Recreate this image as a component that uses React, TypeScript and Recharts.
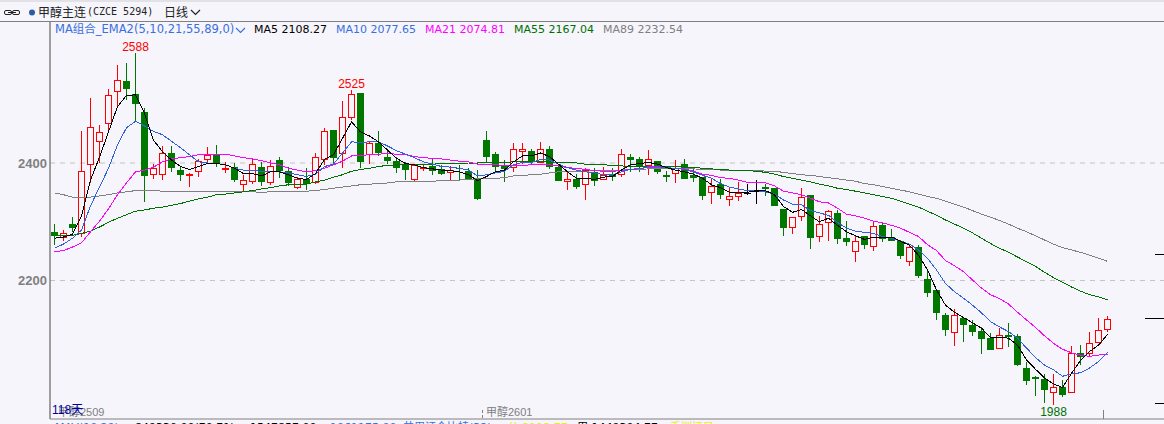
import React from 'react';
import { ComposedChart, Bar, Line, XAxis, YAxis, CartesianGrid, ReferenceDot } from 'recharts';

const opens = [
  2282, 2274, 2296, 2281, 2399, 2438, 2468, 2522, 2540, 2517,
  2486, 2382, 2382, 2417, 2388, 2379, 2386, 2406, 2414, 2389,
  2394, 2364, 2369, 2394, 2368, 2405, 2386, 2360, 2373, 2368,
  2406, 2456, 2417, 2478, 2519, 2415, 2434, 2410, 2403, 2398,
  2373, 2392, 2395, 2390, 2385, 2392, 2386, 2373, 2439, 2415,
  2397, 2394, 2421, 2420, 2402, 2424, 2394, 2370, 2373, 2365,
  2385, 2372, 2380, 2381, 2410, 2407, 2397, 2403, 2380, 2383,
  2398, 2380, 2376, 2350, 2364, 2338, 2344, 2349, 2353, 2359,
  2357, 2322, 2291, 2309, 2346, 2275, 2299, 2315, 2272, 2251,
  2276, 2259, 2294, 2274, 2267, 2234, 2257, 2202, 2184, 2141,
  2112, 2137, 2124, 2114, 2102, 2085, 2107, 2105, 2051, 2035,
  2032, 2011, 2018, 2010, 2076, 2077, 2095, 2117,
];
const closes = [
  2275, 2281, 2290, 2387, 2462, 2453, 2515, 2541, 2526, 2500,
  2378, 2391, 2417, 2392, 2380, 2382, 2403, 2413, 2399, 2391,
  2371, 2371, 2398, 2368, 2395, 2386, 2366, 2372, 2364, 2410,
  2455, 2409, 2478, 2517, 2402, 2434, 2417, 2404, 2392, 2388,
  2396, 2394, 2387, 2382, 2388, 2389, 2373, 2339, 2411, 2394,
  2390, 2423, 2423, 2402, 2423, 2394, 2370, 2372, 2360, 2388,
  2370, 2380, 2376, 2415, 2405, 2395, 2406, 2385, 2377, 2391,
  2373, 2375, 2344, 2361, 2346, 2343, 2349, 2349, 2353, 2356,
  2327, 2290, 2308, 2342, 2272, 2297, 2319, 2271, 2266, 2268,
  2261, 2292, 2271, 2268, 2241, 2257, 2208, 2179, 2144, 2116,
  2142, 2124, 2113, 2101, 2082, 2108, 2104, 2056, 2029, 2032,
  2014, 2018, 2005, 2077, 2069, 2094, 2115, 2135,
];
const highs = [
  2296, 2286, 2308, 2454, 2511, 2465, 2526, 2567, 2571, 2588,
  2494, 2399, 2429, 2429, 2395, 2383, 2406, 2427, 2431, 2402,
  2400, 2380, 2406, 2402, 2405, 2410, 2394, 2377, 2391, 2417,
  2459, 2456, 2506, 2525, 2519, 2436, 2454, 2422, 2411, 2402,
  2398, 2398, 2409, 2397, 2395, 2397, 2391, 2388, 2454, 2418,
  2405, 2434, 2434, 2423, 2435, 2429, 2395, 2385, 2382, 2391,
  2391, 2394, 2391, 2424, 2415, 2411, 2422, 2403, 2386, 2405,
  2407, 2391, 2376, 2372, 2372, 2357, 2368, 2364, 2371, 2365,
  2357, 2322, 2308, 2357, 2346, 2310, 2320, 2320, 2301, 2277,
  2276, 2300, 2299, 2288, 2269, 2262, 2260, 2218, 2184, 2145,
  2152, 2137, 2133, 2121, 2110, 2119, 2127, 2109, 2061, 2038,
  2041, 2041, 2031, 2089, 2090, 2112, 2136, 2140,
];
const lows = [
  2260, 2268, 2283, 2274, 2366, 2400, 2451, 2494, 2507, 2471,
  2334, 2373, 2371, 2385, 2370, 2360, 2377, 2399, 2394, 2383,
  2368, 2352, 2365, 2361, 2363, 2374, 2361, 2356, 2354, 2365,
  2397, 2397, 2391, 2473, 2392, 2398, 2412, 2398, 2383, 2371,
  2368, 2387, 2380, 2380, 2371, 2371, 2372, 2337, 2402, 2385,
  2368, 2385, 2399, 2397, 2402, 2390, 2370, 2354, 2356, 2337,
  2361, 2371, 2369, 2377, 2385, 2385, 2380, 2381, 2368, 2366,
  2373, 2368, 2337, 2331, 2339, 2326, 2335, 2346, 2331, 2343,
  2327, 2275, 2279, 2302, 2254, 2266, 2267, 2262, 2259, 2232,
  2254, 2251, 2266, 2268, 2237, 2225, 2205, 2172, 2132, 2106,
  2089, 2096, 2106, 2075, 2081, 2085, 2087, 2055, 2023, 2004,
  1992, 1988, 2002, 2010, 2056, 2069, 2095, 2113,
];
const ma5 = [
  2272, 2274, 2279, 2310, 2371, 2410, 2453, 2496, 2515, 2516,
  2485, 2439, 2419, 2405, 2394, 2389, 2394, 2399, 2399, 2397,
  2391, 2382, 2382, 2378, 2385, 2385, 2380, 2374, 2372, 2382,
  2406, 2414, 2442, 2470, 2453, 2446, 2436, 2422, 2408, 2399,
  2397, 2392, 2390, 2388, 2387, 2385, 2380, 2370, 2377, 2385,
  2388, 2402, 2412, 2412, 2417, 2411, 2398, 2385, 2374, 2374,
  2372, 2376, 2377, 2388, 2397, 2399, 2401, 2398, 2392, 2388,
  2385, 2381, 2374, 2363, 2358, 2350, 2350, 2350, 2353, 2353,
  2346, 2326, 2316, 2321, 2310, 2300, 2306, 2294, 2283, 2276,
  2270, 2274, 2274, 2274, 2267, 2260, 2243, 2218, 2184, 2158,
  2146, 2137, 2128, 2119, 2103, 2103, 2102, 2090, 2065, 2049,
  2034, 2024, 2018, 2042, 2064, 2079, 2090, 2108.27,
];
const ma10 = [
  2255, 2262, 2272, 2286, 2327, 2359, 2391, 2431, 2460, 2471,
  2463, 2454, 2448, 2437, 2426, 2414, 2402, 2400, 2399, 2397,
  2391, 2388, 2387, 2386, 2385, 2385, 2383, 2380, 2377, 2381,
  2394, 2398, 2417, 2436, 2435, 2436, 2436, 2429, 2421, 2415,
  2409, 2402, 2398, 2394, 2393, 2391, 2388, 2378, 2380, 2383,
  2386, 2397, 2401, 2401, 2406, 2405, 2398, 2392, 2388, 2385,
  2383, 2380, 2380, 2385, 2389, 2390, 2394, 2394, 2392, 2391,
  2389, 2385, 2379, 2374, 2365, 2359, 2356, 2353, 2353, 2351,
  2347, 2337, 2330, 2329, 2319, 2315, 2311, 2299, 2289, 2284,
  2282, 2280, 2275, 2272, 2267, 2262, 2252, 2238, 2218, 2195,
  2181, 2170, 2158, 2145, 2130, 2121, 2113, 2102, 2085, 2069,
  2056, 2048, 2037, 2041, 2043, 2051, 2062, 2077.65,
];
const ma21 = [
  2249, 2251, 2257, 2264, 2283, 2301, 2322, 2346, 2366, 2385,
  2388, 2393, 2402, 2407, 2409, 2411, 2414, 2415, 2415, 2415,
  2412, 2409, 2407, 2404, 2400, 2397, 2391, 2388, 2385, 2387,
  2391, 2397, 2403, 2412, 2413, 2414, 2415, 2416, 2415, 2414,
  2411, 2409, 2408, 2407, 2405, 2403, 2402, 2398, 2397, 2397,
  2396, 2395, 2396, 2397, 2397, 2397, 2395, 2392, 2391, 2389,
  2387, 2386, 2386, 2387, 2389, 2391, 2392, 2392, 2392, 2391,
  2390, 2386, 2381, 2379, 2375, 2374, 2371, 2367, 2367, 2366,
  2361, 2352, 2349, 2346, 2340, 2334, 2332, 2323, 2313, 2310,
  2306, 2301, 2298, 2294, 2289, 2282, 2275, 2261, 2251, 2234,
  2225, 2215, 2201, 2187, 2176, 2169, 2160, 2146, 2133, 2120,
  2106, 2093, 2083, 2077, 2073, 2071, 2073, 2074.81,
];
const ma55 = [
  2277, 2277, 2277, 2280, 2284, 2291, 2299, 2306, 2312, 2318,
  2320, 2323, 2325, 2328, 2331, 2335, 2339, 2342, 2346, 2347,
  2349, 2351, 2353, 2356, 2358, 2361, 2363, 2363, 2364, 2368,
  2371, 2376, 2380, 2386, 2389, 2391, 2394, 2396, 2397, 2398,
  2398, 2398, 2398, 2399, 2399, 2399, 2400, 2400, 2401, 2401,
  2401, 2402, 2402, 2402, 2402, 2402, 2401, 2401, 2400, 2398,
  2397, 2397, 2396, 2395, 2394, 2394, 2394, 2394, 2394, 2394,
  2393, 2393, 2391, 2390, 2389, 2388, 2387, 2387, 2386, 2384,
  2381, 2377, 2374, 2371, 2368, 2364, 2361, 2357, 2355, 2352,
  2349, 2346, 2343, 2340, 2335, 2330, 2325, 2318, 2311, 2303,
  2296, 2289, 2281, 2272, 2263, 2255, 2248, 2240, 2232, 2224,
  2214, 2205, 2197, 2189, 2182, 2176, 2172, 2167.04,
];
const ma89 = [
  2349, 2346, 2342, 2341, 2342, 2344, 2346, 2349, 2351, 2353,
  2353, 2353, 2352, 2352, 2352, 2352, 2352, 2352, 2352, 2352,
  2352, 2351, 2351, 2350, 2351, 2352, 2351, 2351, 2352, 2353,
  2355, 2357, 2359, 2361, 2363, 2364, 2365, 2366, 2368, 2368,
  2369, 2369, 2369, 2370, 2371, 2371, 2372, 2373, 2374, 2374,
  2375, 2378, 2379, 2380, 2381, 2383, 2385, 2385, 2385, 2386,
  2387, 2388, 2388, 2388, 2389, 2389, 2390, 2390, 2390, 2390,
  2390, 2390, 2389, 2389, 2388, 2388, 2388, 2388, 2388, 2386,
  2386, 2384, 2382, 2380, 2379, 2377, 2375, 2373, 2371, 2369,
  2365, 2363, 2360, 2357, 2354, 2351, 2347, 2343, 2340, 2335,
  2330, 2325, 2319, 2313, 2308, 2302, 2296, 2289, 2283, 2276,
  2269, 2262, 2256, 2252, 2248, 2243, 2238, 2232.54,
];

const priceTicks = [2200, 2400];
const sideMarks = [2245, 2136, 1991];
const rollIndexes = [0, 48, 117];
const rollLabels = ['甲醇2509', '甲醇2601', ''];
const extremes = [
  { index: 9, value: 2588, color: '#ff0000', text: '2588' },
  { index: 33, value: 2525, color: '#ff0000', text: '2525' },
];

const BG = '#f5f5fb';
const UP = '#ff0000';
const DOWN = '#007800';
const LOW_Y = 2400 - (419 - 163) * 1.702;
const TOP_Y = 2400 + (163 - 21) * 1.702;

const rows = opens.map((open, i) => ({
  idx: i,
  open,
  close: closes[i],
  high: highs[i],
  low: lows[i],
  range: [lows[i], highs[i]],
  ma5: ma5[i],
  ma10: ma10[i],
  ma21: ma21[i],
  ma55: ma55[i],
  ma89: ma89[i],
}));

const Candle = (props: any) => {
  const { x, y, width, height, payload } = props;
  const { open, close, high, low } = payload;
  const cx = Math.floor(x + width / 2);
  const toY = (v: number) => y + ((high - v) / (high - low)) * height;
  const top = Math.round(toY(Math.max(open, close)));
  const bottom = Math.round(toY(Math.min(open, close)));
  const color = open === close ? '#000000' : close > open ? UP : DOWN;
  return (
    <g shapeRendering="crispEdges">
      <rect x={cx} y={y} width={1} height={Math.max(height, 1)} fill={color} />
      {close > open ? (
        <rect x={cx - 2.5} y={top + 0.5} width={6} height={Math.max(bottom - top, 1)} fill={BG} stroke={color} strokeWidth={1.3} />
      ) : (
        <rect x={cx - 3} y={top} width={7} height={Math.max(bottom - top, 1)} fill={color} />
      )}
    </g>
  );
};

// short marks on the right edge, the current price one is longer
const SideMark = (props: any) => {
  const { cy, value } = props;
  const from = value === 2136 ? 1145 : 1155;
  const y = Math.floor(cy) + 0.5;
  return <line x1={from} x2={1164} y1={y} y2={y} stroke="#000" strokeWidth={1} shapeRendering="crispEdges" />;
};

const RollTick = (props: any) => {
  const { x, index } = props;
  const lineX = Math.floor(x - 4.5) + 0.5;
  const textX = index === 0 ? x + 3.5 : x - 0.5;
  return (
    <g>
      {index > 0 && (
        <line x1={lineX} x2={lineX} y1={410} y2={419} stroke="#808080" strokeDasharray={index === 1 ? '3 2' : undefined} shapeRendering="crispEdges" />
      )}
      <text x={textX} y={416} fill="#808080" fontSize={11} fontFamily="'Liberation Sans','Noto Sans CJK SC'">
        {rollLabels[index]}
      </text>
    </g>
  );
};

const legendItems = [
  { left: 254, color: '#000000', text: 'MA5 2108.27' },
  { left: 336, color: '#3b6fe0', text: 'MA10 2077.65' },
  { left: 425, color: '#ff00ff', text: 'MA21 2074.81' },
  { left: 514, color: '#007000', text: 'MA55 2167.04' },
  { left: 603, color: '#808080', text: 'MA89 2232.54' },
];

const statItems = [
  { left: 55, color: '#3b6fe0', text: 'MAV(10,20)' },
  { left: 135, color: '#000000', text: '849330.00(70.71)' },
  { left: 250, color: '#000000', text: '1547857.00' },
  { left: 330, color: '#3b6fe0', text: '1061175.00' },
  { left: 403, color: '#3b6fe0', text: '共用证仓比持(32)' },
  { left: 508, color: '#eeee00', text: '从 2112.77' },
  { left: 577, color: '#000000', text: '用 1449304.77' },
  { left: 670, color: '#eeee00', text: '手训证日' },
];

const uiFont = "'DejaVu Sans','Noto Sans CJK SC',sans-serif";

export default function App() {
  return (
    <div style={{ position: 'absolute', left: 0, top: 0, width: 1164, height: 424, overflow: 'hidden', background: BG, fontFamily: uiFont }}>
      <div style={{ position: 'absolute', left: 0, top: 0, width: 1164, height: 2, background: '#e2e2e6' }} />
      <div style={{ position: 'absolute', left: 0, top: 21, width: 1164, height: 1, background: '#808080' }} />
      <svg style={{ position: 'absolute', left: 0, top: 0 }} width={260} height={40}>
        <rect x={4.5} y={10.5} width={7} height={4} rx={1.5} fill="none" stroke="#222" />
        <rect x={12.5} y={10.5} width={7} height={4} rx={1.5} fill="none" stroke="#222" />
        <line x1={8} x2={16} y1={12.5} y2={12.5} stroke="#222" />
        <circle cx={32} cy={12.5} r={3} fill="#2a5ca8" />
        <path d="M191 10 L195.5 14.5 L200 10" fill="none" stroke="#222" strokeWidth={1.2} />
        <path d="M236 28 L240.5 32.5 L245 28" fill="none" stroke="#3b6fe0" strokeWidth={1.2} />
      </svg>
      <div style={{ position: 'absolute', left: 38, top: 4, fontSize: 12, lineHeight: '16px', color: '#222', whiteSpace: 'pre', fontFamily: "'Noto Sans CJK SC'" }}>甲醇主连</div>
      <div style={{ position: 'absolute', left: 87, top: 4, fontSize: 10, lineHeight: '16px', color: '#222', whiteSpace: 'pre', fontFamily: "'DejaVu Sans Mono'" }}>(CZCE 5294)</div>
      <div style={{ position: 'absolute', left: 164, top: 4, fontSize: 12, lineHeight: '16px', color: '#222', fontFamily: "'Noto Sans CJK SC'" }}>日线</div>
      <div style={{ position: 'absolute', left: 55, top: 22, fontSize: 11.5, lineHeight: '15px', color: '#3b6fe0', whiteSpace: 'pre' }}>MA组合_EMA2(5,10,21,55,89,0)</div>
      {legendItems.map((item) => (
        <div key={item.text} style={{ position: 'absolute', left: item.left, top: 22, fontSize: 11, lineHeight: '15px', color: item.color, whiteSpace: 'pre' }}>
          {item.text}
        </div>
      ))}
      <div style={{ position: 'absolute', left: 0, top: 0 }}>
        <ComposedChart width={1164} height={424} data={rows} margin={{ top: 21, right: 0, bottom: 4, left: 0 }} barCategoryGap={0}>
          <CartesianGrid vertical={false} horizontalValues={priceTicks} stroke="#c4c4c4" strokeDasharray="5 5" />
          <XAxis
            dataKey="idx"
            type="category"
            ticks={rollIndexes}
            interval={0}
            height={1}
            padding={{ left: 0, right: 52 }}
            stroke="#808080"
            tickLine={false}
            tick={(p: any) => <RollTick {...p} />}
          />
          <YAxis
            width={50}
            domain={[LOW_Y, TOP_Y]}
            ticks={priceTicks}
            interval={0}
            stroke="#808080"
            strokeWidth={1.5}
            tickLine={false}
            tickSize={0}
            tickMargin={3}
            tick={{ fill: '#808080', fontSize: 13, fontWeight: 700, fontFamily: 'Liberation Sans' }}
          />
          <Bar dataKey="range" shape={<Candle />} isAnimationActive={false} />
          <Line dataKey="ma89" stroke="#808080" strokeWidth={1} dot={false} isAnimationActive={false} shapeRendering="crispEdges" />
          <Line dataKey="ma55" stroke="#007000" strokeWidth={1} dot={false} isAnimationActive={false} shapeRendering="crispEdges" />
          <Line dataKey="ma21" stroke="#ff00ff" strokeWidth={1} dot={false} isAnimationActive={false} shapeRendering="crispEdges" />
          <Line dataKey="ma10" stroke="#2f62d8" strokeWidth={1} dot={false} isAnimationActive={false} shapeRendering="crispEdges" />
          <Line dataKey="ma5" stroke="#000000" strokeWidth={1} dot={false} isAnimationActive={false} shapeRendering="crispEdges" />
          {extremes.map((e) => (
            <ReferenceDot
              key={e.text}
              x={e.index}
              y={e.value}
              r={0}
              fill="none"
              stroke="none"
              label={{ value: e.text, position: 'top', fill: e.color, fontSize: 12, fontFamily: 'Liberation Sans', offset: 2 }}
            />
          ))}
          <ReferenceDot
            x={111}
            y={1988}
            r={0}
            fill="none"
            stroke="none"
            label={{ value: '1988', position: 'bottom', fill: '#007000', fontSize: 12, fontFamily: 'Liberation Sans', offset: 2 }}
          />
          {sideMarks.map((m) => (
            <ReferenceDot key={m} x={117} y={m} value={m} shape={(p: any) => <SideMark {...p} value={m} />} />
          ))}
        </ComposedChart>
      </div>
      <div style={{ position: 'absolute', left: 52, top: 403, fontSize: 12, lineHeight: '15px', color: '#0000a0', fontFamily: "'Liberation Sans','Noto Sans CJK SC'" }}>118天</div>
      {statItems.map((item) => (
        <div key={item.text} style={{ position: 'absolute', left: item.left, top: 420, fontSize: 11, lineHeight: '15px', color: item.color, whiteSpace: 'pre' }}>
          {item.text}
        </div>
      ))}
    </div>
  );
}
